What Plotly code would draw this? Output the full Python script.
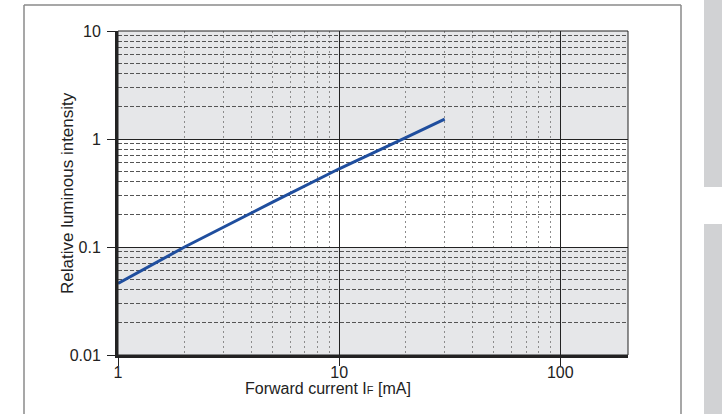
import plotly.graph_objects as go

# Data
forward_current_mA = [1, 2, 5, 10, 20, 30]
relative_intensity = [0.046, 0.1, 0.26, 0.53, 1.03, 1.53]

x_major = [1, 10, 100]
x_major_labels = ["1", "10", "100"]
x_minor = [2, 3, 4, 5, 6, 7, 8, 9, 20, 30, 40, 50, 60, 70, 80, 90]
y_major = [0.01, 0.1, 1, 10]
y_major_labels = ["0.01", "0.1", "1", "10"]
y_minor = [0.02, 0.03, 0.04, 0.05, 0.06, 0.07, 0.08, 0.09,
           0.2, 0.3, 0.4, 0.5, 0.6, 0.7, 0.8, 0.9,
           2, 3, 4, 5, 6, 7, 8, 9]
gray_bands = [(0.01, 0.1), (1, 10)]
x_title = "Forward current I<span style='font-size:11px'>F</span> [mA]"
y_title = "Relative luminous intensity"

FONT = "Liberation Sans, Arial, sans-serif"
PW, PH, L, T = 510, 324, 118, 31

def px(x):
    return (x - L) / PW

def py(y):
    return (T + PH - y) / PH

fig = go.Figure()
fig.add_trace(go.Scatter(
    x=forward_current_mA, y=relative_intensity, mode="lines",
    line=dict(color="#1f4e9e", width=3), showlegend=False, hoverinfo="skip"))

shapes = []
for lo, hi in gray_bands:
    shapes.append(dict(type="rect", xref="paper", yref="y", x0=0, x1=1, y0=lo, y1=hi,
                       fillcolor="#e6e7e9", line=dict(width=0), layer="below"))
# thin top/right border of plot
shapes.append(dict(type="rect", xref="paper", yref="paper", x0=0, x1=1, y0=0, y1=1,
                   line=dict(color="#222222", width=1), layer="above"))
# outer page frame
frame = dict(color="#8a8a8a", width=1.5)
shapes.append(dict(type="line", xref="paper", yref="paper", x0=px(24), x1=px(24), y0=py(430), y1=py(5), line=frame))
shapes.append(dict(type="line", xref="paper", yref="paper", x0=px(24), x1=px(681), y0=py(5), y1=py(5), line=frame))
shapes.append(dict(type="line", xref="paper", yref="paper", x0=px(681), x1=px(681), y0=py(430), y1=py(5), line=frame))
# right side gray page tabs
shapes.append(dict(type="rect", xref="paper", yref="paper",
                   x0=px(704), x1=px(730), y0=py(187), y1=py(-10),
                   fillcolor="#d1d2d4", line=dict(width=0)))
shapes.append(dict(type="rect", xref="paper", yref="paper",
                   x0=px(704), x1=px(730), y0=py(430), y1=py(224),
                   fillcolor="#d1d2d4", line=dict(width=0)))

annotations = [
    dict(text=x_title, xref="paper", yref="paper", x=px(328), y=py(388),
         xanchor="center", yanchor="middle", showarrow=False,
         font=dict(size=16, family=FONT, color="#222222", weight=500)),
    dict(text=y_title, xref="paper", yref="paper", x=px(67), y=py(193),
         xanchor="center", yanchor="middle", showarrow=False, textangle=-90,
         font=dict(size=17, family=FONT, color="#222222", weight=500)),
]

fig.update_layout(
    width=722, height=414,
    margin=dict(l=L, r=722 - L - PW, t=T, b=414 - T - PH, autoexpand=False),
    paper_bgcolor="white", plot_bgcolor="white",
    shapes=shapes, annotations=annotations,
    font=dict(family=FONT, color="#222222", size=15),
    xaxis=dict(
        type="log", range=[0, 2.306], automargin=False,
        tickvals=x_major, ticktext=x_major_labels,
        ticks="outside", ticklen=8, tickwidth=1, tickcolor="#222222",
        showgrid=True, gridcolor="#222222", gridwidth=1,
        showline=True, linecolor="#222222", linewidth=3,
        tickfont=dict(size=16),
        ticklabelstandoff=-7,
        minor=dict(tickvals=x_minor, showgrid=True, gridcolor="#8c8c8c",
                   griddash="2px,3px", gridwidth=1, ticks=""),
        zeroline=False,
    ),
    yaxis=dict(
        type="log", range=[-2, 1], automargin=False,
        tickvals=y_major, ticktext=y_major_labels,
        ticks="outside", ticklen=8, tickwidth=1, tickcolor="#222222",
        showgrid=True, gridcolor="#222222", gridwidth=1,
        showline=True, linecolor="#222222", linewidth=3,
        tickfont=dict(size=16),
        ticklabelstandoff=3,
        minor=dict(tickvals=y_minor, showgrid=True, gridcolor="#555555",
                   griddash="4px,2px", gridwidth=1, ticks=""),
        zeroline=False,
    ),
)

fig.write_html("out.html", config={"displayModeBar": False},
               post_script="document.body.style.margin='0';")
